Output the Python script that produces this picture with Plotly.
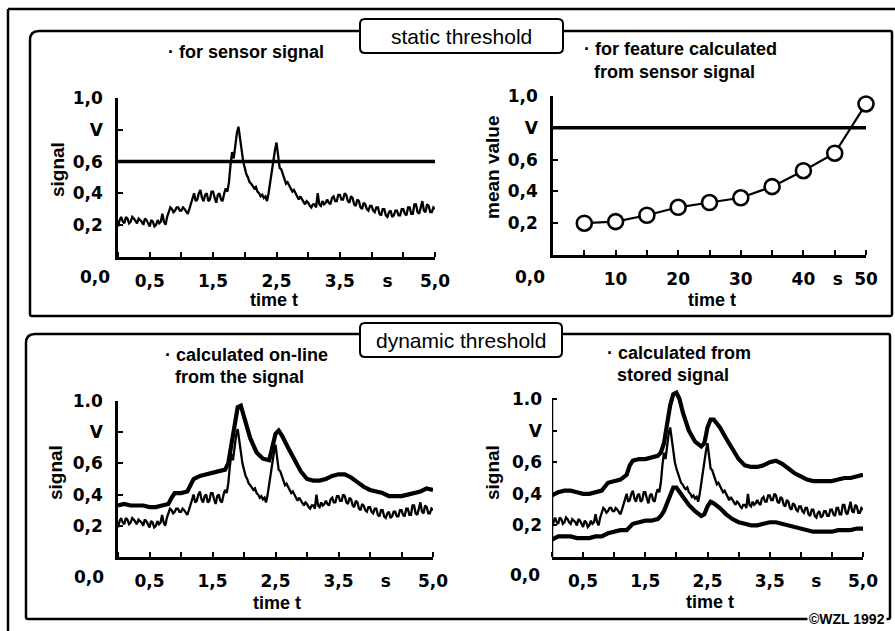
import plotly.graph_objects as go

W, H = 895, 631
FONT = "Liberation Sans, Arial, sans-serif"
TICK_FONT = "DejaVu Sans, Verdana, sans-serif"

# ---------------- data ----------------
signal_time = [round(i * 0.025, 3) for i in range(201)]
sensor_signal = [
    0.19, 0.23, 0.25, 0.22, 0.21, 0.25, 0.24, 0.21,
    0.22, 0.25, 0.24, 0.22, 0.21, 0.24, 0.23, 0.22,
    0.20, 0.24, 0.23, 0.21, 0.19, 0.23, 0.22, 0.19,
    0.20, 0.23, 0.21, 0.22, 0.27, 0.22, 0.20, 0.25,
    0.28, 0.31, 0.30, 0.28, 0.29, 0.31, 0.31, 0.29,
    0.29, 0.31, 0.30, 0.28, 0.27, 0.30, 0.33, 0.37,
    0.40, 0.35, 0.36, 0.40, 0.42, 0.37, 0.35, 0.39,
    0.40, 0.35, 0.36, 0.41, 0.41, 0.37, 0.34, 0.39,
    0.40, 0.36, 0.35, 0.40, 0.43, 0.41, 0.47, 0.58,
    0.66, 0.62, 0.70, 0.78, 0.82, 0.74, 0.66, 0.60,
    0.56, 0.52, 0.50, 0.47, 0.46, 0.44, 0.43, 0.44,
    0.41, 0.40, 0.38, 0.39, 0.37, 0.38, 0.35, 0.40,
    0.47, 0.55, 0.60, 0.67, 0.72, 0.62, 0.56, 0.55,
    0.52, 0.49, 0.46, 0.47, 0.45, 0.42, 0.41, 0.42,
    0.40, 0.38, 0.36, 0.38, 0.36, 0.34, 0.33, 0.35,
    0.34, 0.32, 0.31, 0.33, 0.33, 0.31, 0.40, 0.33,
    0.32, 0.35, 0.33, 0.34, 0.36, 0.34, 0.33, 0.37,
    0.38, 0.35, 0.35, 0.39, 0.39, 0.36, 0.36, 0.40,
    0.39, 0.35, 0.34, 0.38, 0.37, 0.33, 0.32, 0.36,
    0.35, 0.31, 0.30, 0.34, 0.33, 0.30, 0.29, 0.32,
    0.32, 0.29, 0.28, 0.31, 0.31, 0.27, 0.26, 0.30,
    0.30, 0.26, 0.25, 0.28, 0.29, 0.25, 0.26, 0.29,
    0.29, 0.26, 0.26, 0.30, 0.30, 0.27, 0.26, 0.31,
    0.31, 0.27, 0.27, 0.33, 0.33, 0.28, 0.27, 0.31,
    0.35, 0.29, 0.28, 0.33, 0.32, 0.28, 0.28, 0.31,
    0.30,
]
static_threshold_signal = 0.6
signal_time_range = [0.0, 5.0]

feature_time = [5, 10, 15, 20, 25, 30, 35, 40, 45, 50]
feature_mean = [0.20, 0.21, 0.25, 0.30, 0.33, 0.36, 0.43, 0.53, 0.64, 0.95]
static_threshold_feature = 0.8
feature_time_range = [0, 50]

online_time = [0, 0.1, 0.2, 0.3, 0.4, 0.5, 0.6, 0.7, 0.8, 0.85,
               0.9, 1.0, 1.1, 1.15, 1.2, 1.3, 1.4, 1.5, 1.6, 1.7,
               1.75, 1.8, 1.85, 1.9, 1.95, 2.0, 2.1, 2.2, 2.3, 2.4,
               2.45, 2.5, 2.55, 2.6, 2.7, 2.8, 2.9, 3.0, 3.1, 3.2,
               3.3, 3.4, 3.5, 3.6, 3.7, 3.8, 3.9, 4.0, 4.1, 4.2,
               4.3, 4.4, 4.5, 4.6, 4.7, 4.8, 4.9, 5.0]
online_threshold = [0.33, 0.34, 0.33, 0.33, 0.33, 0.32, 0.32, 0.33, 0.34, 0.38,
                    0.41, 0.41, 0.42, 0.46, 0.50, 0.52, 0.53, 0.54, 0.55, 0.56,
                    0.60, 0.72, 0.88, 0.96, 0.97, 0.90, 0.76, 0.67, 0.63, 0.62,
                    0.70, 0.79, 0.81, 0.78, 0.70, 0.62, 0.55, 0.50, 0.49, 0.49,
                    0.50, 0.52, 0.53, 0.53, 0.51, 0.48, 0.45, 0.43, 0.42, 0.41,
                    0.39, 0.39, 0.39, 0.40, 0.41, 0.42, 0.44, 0.43]

stored_time = [0, 0.1, 0.2, 0.3, 0.4, 0.5, 0.6, 0.7, 0.8, 0.9,
               1.0, 1.1, 1.2, 1.25, 1.3, 1.4, 1.5, 1.6, 1.7, 1.75,
               1.8, 1.85, 1.9, 1.95, 2.0, 2.05, 2.1, 2.2, 2.3, 2.4,
               2.45, 2.5, 2.55, 2.6, 2.7, 2.8, 2.9, 3.0, 3.1, 3.2,
               3.3, 3.4, 3.5, 3.6, 3.7, 3.8, 3.9, 4.0, 4.1, 4.2,
               4.3, 4.4, 4.5, 4.6, 4.7, 4.8, 4.9, 5.0]
stored_upper = [0.39, 0.41, 0.42, 0.42, 0.41, 0.40, 0.40, 0.41, 0.42, 0.47,
                0.48, 0.49, 0.52, 0.58, 0.61, 0.62, 0.62, 0.63, 0.64, 0.66,
                0.72, 0.84, 0.96, 1.03, 1.04, 1.00, 0.92, 0.80, 0.73, 0.70,
                0.72, 0.82, 0.87, 0.87, 0.82, 0.75, 0.68, 0.62, 0.58, 0.57,
                0.57, 0.58, 0.60, 0.61, 0.59, 0.56, 0.53, 0.51, 0.49, 0.48,
                0.48, 0.48, 0.48, 0.49, 0.50, 0.50, 0.51, 0.52]
stored_lower = [0.11, 0.13, 0.13, 0.13, 0.12, 0.12, 0.12, 0.13, 0.13, 0.15,
                0.16, 0.17, 0.17, 0.19, 0.21, 0.22, 0.23, 0.23, 0.24, 0.26,
                0.29, 0.34, 0.40, 0.44, 0.44, 0.41, 0.38, 0.33, 0.29, 0.26,
                0.27, 0.32, 0.35, 0.34, 0.31, 0.27, 0.24, 0.22, 0.21, 0.20,
                0.20, 0.21, 0.22, 0.22, 0.21, 0.20, 0.19, 0.18, 0.17, 0.16,
                0.16, 0.16, 0.16, 0.17, 0.17, 0.17, 0.18, 0.18]

# tick labels
y_tickvals = [0.2, 0.4, 0.6, 0.8, 1.0]
y_ticktext_top = ["0,2", "0,4", "0,6", "V", "1,0"]
y_ticktext_bottom = ["0,2", "0,4", "0,6", "V", "1.0"]
t_tickvals = [0.5, 1.5, 2.5, 3.5, 4.25, 5.0]
t_ticktext = ["0,5", "1,5", "2,5", "3,5", "s", "5,0"]
t_minor = [0, 0.5, 1.0, 1.5, 2.0, 2.5, 3.0, 3.5, 4.0, 4.5, 5.0]
f_tickvals = [10, 20, 30, 40, 45.5, 50]
f_ticktext = ["10", "20", "30", "40", "s", "50"]
f_minor = [5, 10, 15, 20, 25, 30, 35, 40, 45, 50]


# ---------------- helpers (layout only) ----------------
def px(x):
    return x / W


def py(y):
    return 1 - y / H


def tfont(size=18, bold=True, family=FONT):
    return dict(family=family, size=size, color="black", weight="bold" if bold else "normal")


TICKF = tfont(17, True, TICK_FONT)


def xaxis(x0, x1, rng, tv, tt, minor, anchor):
    return dict(domain=[px(x0), px(x1)], range=rng, anchor=anchor,
                showline=True, linewidth=2.5, linecolor="black",
                showgrid=False, zeroline=False, fixedrange=True, automargin=False,
                ticks="", tickmode="array", tickvals=tv, ticktext=tt,
                tickfont=TICKF, ticklabelstandoff=7,
                minor=dict(tickmode="array", tickvals=minor, ticks="inside",
                           ticklen=5, tickwidth=2, tickcolor="black", showgrid=False))


def yaxis(y0, y1, rng, tt, anchor, showline=True):
    return dict(domain=[py(y0), py(y1)], range=rng, anchor=anchor,
                showline=showline, linewidth=2.5, linecolor="black",
                showgrid=False, zeroline=False, fixedrange=True, automargin=False,
                ticks="inside", ticklen=5, tickwidth=2, tickcolor="black",
                tickmode="array", tickvals=y_tickvals, ticktext=tt,
                tickfont=TICKF, ticklabelstandoff=9)


fig = go.Figure()

RAW_W = 2.3
ENV_W = 4.2
THR_W = 3.5
# subplot 1
fig.add_trace(go.Scatter(x=signal_time, y=sensor_signal, mode="lines",
                         line=dict(color="black", width=RAW_W), xaxis="x", yaxis="y"))
fig.add_trace(go.Scatter(x=signal_time_range, y=[static_threshold_signal] * 2, mode="lines",
                         line=dict(color="black", width=THR_W), xaxis="x", yaxis="y"))
# subplot 2
fig.add_trace(go.Scatter(x=feature_time_range, y=[static_threshold_feature] * 2, mode="lines",
                         line=dict(color="black", width=THR_W), xaxis="x2", yaxis="y2"))
fig.add_trace(go.Scatter(x=feature_time, y=feature_mean, mode="lines+markers",
                         line=dict(color="black", width=2.2),
                         marker=dict(size=15, color="white", line=dict(color="black", width=2.6)),
                         cliponaxis=False, xaxis="x2", yaxis="y2"))
# subplot 3
fig.add_trace(go.Scatter(x=online_time, y=online_threshold, mode="lines",
                         line=dict(color="black", width=ENV_W), xaxis="x3", yaxis="y3"))
fig.add_trace(go.Scatter(x=signal_time, y=sensor_signal, mode="lines",
                         line=dict(color="black", width=RAW_W), xaxis="x3", yaxis="y3"))
# subplot 4
fig.add_trace(go.Scatter(x=stored_time, y=stored_upper, mode="lines",
                         line=dict(color="black", width=ENV_W), xaxis="x4", yaxis="y4"))
fig.add_trace(go.Scatter(x=signal_time, y=sensor_signal, mode="lines",
                         line=dict(color="black", width=RAW_W), xaxis="x4", yaxis="y4"))
fig.add_trace(go.Scatter(x=stored_time, y=stored_lower, mode="lines",
                         line=dict(color="black", width=ENV_W), xaxis="x4", yaxis="y4"))

Y4_TOP = 1.08
layout_axes = dict(
    xaxis=xaxis(118, 435, signal_time_range, t_tickvals, t_ticktext, t_minor, "y"),
    yaxis=yaxis(256.5, 98.3, [0, 1.0], y_ticktext_top, "x"),
    xaxis2=xaxis(553, 866, feature_time_range, f_tickvals, f_ticktext, f_minor, "y2"),
    yaxis2=yaxis(255, 96, [0, 1.0], y_ticktext_top, "x2"),
    xaxis3=xaxis(118, 433, signal_time_range, t_tickvals, t_ticktext, t_minor, "y3"),
    yaxis3=yaxis(557, 401, [0, 1.0], y_ticktext_bottom, "x3"),
    xaxis4=xaxis(552, 863, signal_time_range, t_tickvals, t_ticktext, t_minor, "y4"),
    yaxis4=yaxis(557, 557 - 158 * Y4_TOP, [0, Y4_TOP], y_ticktext_bottom, "x4", showline=False),
)

# ---------------- frames ----------------
shapes = []


def pline(pts):
    return dict(type="line", xref="paper", yref="paper",
                x0=px(pts[0]), y0=py(pts[1]), x1=px(pts[2]), y1=py(pts[3]),
                line=dict(color="black", width=2.5), layer="above")


def rpath(x0, y0, x1, y1, r_tl, r_other, fill=None, width=2.5):
    p = (f"M {px(x0)},{py(y0 + r_tl)} Q {px(x0)},{py(y0)} {px(x0 + r_tl)},{py(y0)} "
         f"L {px(x1 - r_other)},{py(y0)} Q {px(x1)},{py(y0)} {px(x1)},{py(y0 + r_other)} "
         f"L {px(x1)},{py(y1 - r_other)} Q {px(x1)},{py(y1)} {px(x1 - r_other)},{py(y1)} "
         f"L {px(x0 + r_other)},{py(y1)} Q {px(x0)},{py(y1)} {px(x0)},{py(y1 - r_other)} Z")
    d = dict(type="path", xref="paper", yref="paper", path=p,
             line=dict(color="black", width=width), layer="above")
    if fill:
        d["fillcolor"] = fill
    return d


# outer frame
shapes.append(pline((8, 9, 896, 9)))
shapes.append(pline((8, 9, 8, 632)))
# panels
shapes.append(rpath(30, 31, 892, 316, 9, 2))
shapes.append(rpath(26, 334, 890, 619, 9, 2))
# label boxes
shapes.append(rpath(360, 19, 563, 53, 5, 5, fill="white", width=2))
shapes.append(rpath(360, 323, 562, 357, 5, 5, fill="white", width=2))
# y axis line of subplot 4 (only up to 1.0)
shapes.append(dict(type="line", xref="x4", yref="y4", x0=0, x1=0, y0=0, y1=1.0,
                   line=dict(color="black", width=2.5)))

# ---------------- annotations ----------------
anns = []


def ann(text, x, y, size=18, bold=True, xanchor="center", angle=0, bg=None, family=FONT):
    a = dict(text=text, x=px(x), y=py(y), xref="paper", yref="paper",
             showarrow=False, xanchor=xanchor, yanchor="middle",
             textangle=angle, font=tfont(size, bold, family))
    if bg:
        a["bgcolor"] = bg
    anns.append(a)


ann("static threshold", 461.5, 36, size=21, bold=False)
ann("dynamic threshold", 461, 340, size=21, bold=False)

ann("· for sensor signal", 246, 52)
ann("· for feature calculated", 582, 49, xanchor="left")
ann("from sensor signal", 592, 72, xanchor="left")
ann("· calculated on-line", 163, 355, xanchor="left")
ann("from the signal", 173, 377, xanchor="left")
ann("· calculated from", 605, 353, xanchor="left")
ann("stored signal", 615, 375, xanchor="left")

ann("signal", 57, 170, size=19, angle=-90)
ann("mean value", 492, 167, size=19, angle=-90)
ann("signal", 55, 473, size=19, angle=-90)
ann("signal", 492, 473, size=19, angle=-90)

ann("time t", 274, 300, size=18)
ann("time t", 712, 300, size=18)
ann("time t", 277, 603, size=18)
ann("time t", 710, 602, size=18)

ann("0,0", 95, 277, size=17, family=TICK_FONT)
ann("0,0", 530, 277, size=17, family=TICK_FONT)
ann("0,0", 89, 577, size=17, family=TICK_FONT)
ann("0,0", 525, 575, size=17, family=TICK_FONT)

ann("©WZL 1992", 847, 619, size=14, bg="white")

fig.update_layout(
    width=W, height=H, autosize=False,
    margin=dict(l=0, r=0, t=0, b=0, pad=0),
    paper_bgcolor="white", plot_bgcolor="white",
    showlegend=False,
    shapes=shapes, annotations=anns,
    font=dict(family=FONT, color="black"),
    **layout_axes,
)

post = ("document.documentElement.style.margin='0';document.documentElement.style.padding='0';"
        "document.documentElement.style.overflow='hidden';"
        "document.body.style.margin='0';document.body.style.padding='0';"
        "document.body.style.overflow='hidden';"
        "var d=document.getElementById('{plot_id}');"
        "d.style.position='absolute';d.style.left='0px';d.style.top='0px';")

fig.write_html("out.html", post_script=post, config={"responsive": False, "displayModeBar": False})
